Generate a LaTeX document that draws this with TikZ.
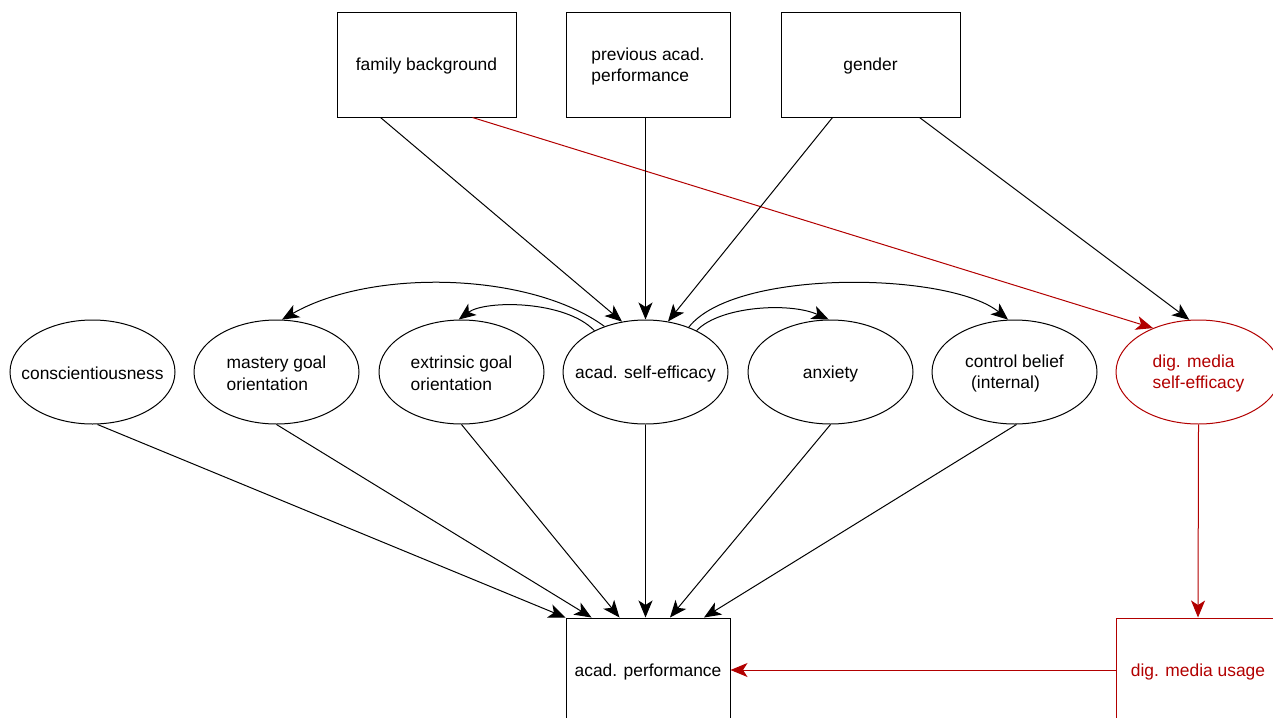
\documentclass[tikz,border=0pt]{standalone}
\usepackage{fontspec}
\setmainfont{Liberation Sans}
\usetikzlibrary{shapes.geometric,arrows.meta,calc}
\definecolor{dred}{RGB}{178,0,0}
\begin{document}
\begin{tikzpicture}[x=1pt,y=-1pt,
  txt/.style={font=\fontsize{17.4}{21.5}\selectfont, inner sep=0pt, align=left, yshift=-1.5pt},
  box/.style={draw, rectangle, line width=1pt, inner sep=0pt, minimum height=104pt},
  ell/.style={draw, ellipse, line width=1pt, inner sep=0pt, minimum width=165pt, minimum height=104pt},
  arr/.style={-{Stealth[length=17pt,width=14pt,inset=4.5pt]}, line width=1pt},
]
\useasboundingbox (0,0) rectangle (1273,717);
\clip (0,0) rectangle (1273,717);

% top boxes
\node[box, minimum width=179pt, label={[txt]center:family background}] (fb) at (426.5,65) {};
\node[box, minimum width=164pt, label={[txt]center:{previous acad.\\performance}}] (pap) at (648,65) {};
\node[box, minimum width=179pt, label={[txt]center:gender}] (gen) at (870.5,65) {};

% ellipses
\node[ell, label={[txt]center:conscientiousness}] (c) at (92.5,372) {};
\node[ell, label={[txt]center:{mastery goal\\orientation}}] (m) at (276.5,372) {};
\node[ell, label={[txt]center:{extrinsic goal\\orientation}}] (e) at (461.5,372) {};
\node[ell, label={[txt]center:{acad. self-efficacy}}] (se) at (645.5,372) {};
\node[ell, label={[txt]center:anxiety}] (a) at (830.5,372) {};
\node[ell, label={[txt]center:{control belief\\\hspace*{6pt}(internal)}}] (cb) at (1014.5,372) {};
\node[ell, draw=dred, label={[txt, text=dred]center:{dig. media\\self-efficacy}}] (dm) at (1198.5,372) {};

% bottom boxes
\node[box, minimum width=164pt, label={[txt]center:acad. performance}] (ap) at (648,670) {};
\node[box, draw=dred, minimum width=163pt, label={[txt, text=dred]center:dig. media usage}] (dmu) at (1198,670) {};

% top edges
\draw[arr] ([xshift=-46pt]fb.south) -- (se.115);
\draw[arr, dred] ([xshift=46pt]fb.south) -- (dm.136);
\draw[arr] (se.north |- pap.south) -- (se.north);
\draw[arr] ([xshift=-38pt]gen.south) -- (se.66);
\draw[arr] ([xshift=49pt]gen.south) -- (dm.100);

% curved edges from self-efficacy
\draw[arr] (se.132) .. controls (530,272) and (372,268) .. (m.84);
\draw[arr] (se.141) .. controls (565,300) and (485,300) .. (e.93);
\draw[arr] (se.46) .. controls (735,268) and (950,272) .. (cb.97);
\draw[arr] (se.39) .. controls (720,306) and (790,302) .. (a.92);

% bottom edges
\draw[arr] ([xshift=5pt]c.south) -- (ap.north west);
\draw[arr] (m.south) -- ([xshift=26pt]ap.north west);
\draw[arr] (e.south) -- ([xshift=54pt]ap.north west);
\draw[arr] (se.south) -- (se.south |- ap.north);
\draw[arr] (a.south) -- ([xshift=22pt]ap.north);
\draw[arr] ([xshift=2pt]cb.south) -- ([xshift=56pt]ap.north);

% red edges
\draw[arr, dred] (dm.south) -- (dmu.north);
\draw[arr, dred] (dmu.west) -- (ap.east);
\end{tikzpicture}
\end{document}
